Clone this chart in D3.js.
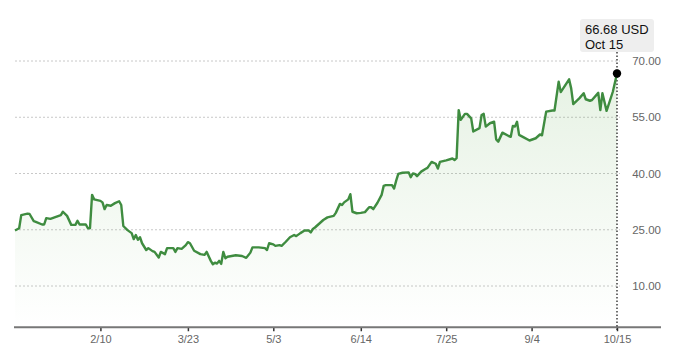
<!DOCTYPE html>
<html>
<head>
<meta charset="utf-8">
<script src="https://cdn.jsdelivr.net/npm/d3@7"></script>
<style>
  html, body { margin: 0; padding: 0; background: #fff; }
  svg { display: block; font-family: "Liberation Sans", Arial, Helvetica, sans-serif; }
</style>
</head>
<body>
<svg id="chart" width="680" height="357"></svg>
<script>
// ---- data ----
const dates = [
  "2019-12-31","2020-01-02","2020-01-03","2020-01-06","2020-01-07","2020-01-09","2020-01-10","2020-01-13","2020-01-14","2020-01-15",
  "2020-01-17","2020-01-19","2020-01-22","2020-01-23","2020-01-25","2020-01-27","2020-01-29","2020-01-30","2020-01-31","2020-02-03",
  "2020-02-04","2020-02-05","2020-02-06","2020-02-07","2020-02-10","2020-02-11","2020-02-12","2020-02-13","2020-02-15","2020-02-17",
  "2020-02-19","2020-02-20","2020-02-21","2020-02-23","2020-02-25","2020-02-26","2020-02-27","2020-02-28","2020-02-29","2020-03-01",
  "2020-03-03","2020-03-04","2020-03-06","2020-03-07","2020-03-09","2020-03-10","2020-03-12","2020-03-13","2020-03-16","2020-03-17",
  "2020-03-18","2020-03-20","2020-03-22","2020-03-23","2020-03-24","2020-03-26","2020-03-29","2020-03-31","2020-04-01","2020-04-03",
  "2020-04-04","2020-04-05","2020-04-06","2020-04-07","2020-04-08","2020-04-09","2020-04-10","2020-04-11","2020-04-13","2020-04-15",
  "2020-04-18","2020-04-20","2020-04-22","2020-04-23","2020-04-26","2020-04-29","2020-04-30","2020-05-01","2020-05-03","2020-05-04",
  "2020-05-06","2020-05-07","2020-05-09","2020-05-11","2020-05-13","2020-05-14","2020-05-16","2020-05-18","2020-05-20","2020-05-21",
  "2020-05-22","2020-05-23","2020-05-27","2020-05-29","2020-06-01","2020-06-02","2020-06-04","2020-06-05","2020-06-06","2020-06-08",
  "2020-06-09","2020-06-10","2020-06-12","2020-06-14","2020-06-16","2020-06-18","2020-06-19","2020-06-20","2020-06-22","2020-06-24",
  "2020-06-25","2020-06-26","2020-06-29","2020-06-30","2020-07-01","2020-07-02","2020-07-04","2020-07-07","2020-07-08","2020-07-09",
  "2020-07-10","2020-07-11","2020-07-13","2020-07-15","2020-07-16","2020-07-18","2020-07-20","2020-07-21","2020-07-22","2020-07-25",
  "2020-07-28","2020-07-29","2020-07-30","2020-07-31","2020-08-01","2020-08-02","2020-08-03","2020-08-04","2020-08-06","2020-08-07",
  "2020-08-10","2020-08-11","2020-08-12","2020-08-13","2020-08-15","2020-08-17","2020-08-18","2020-08-19","2020-08-21","2020-08-24",
  "2020-08-25","2020-08-26","2020-08-27","2020-08-28","2020-08-29","2020-08-31","2020-09-03","2020-09-06","2020-09-08","2020-09-09",
  "2020-09-11","2020-09-14","2020-09-15","2020-09-17","2020-09-18","2020-09-22","2020-09-23","2020-09-24","2020-09-27","2020-09-29",
  "2020-09-30","2020-10-02","2020-10-03","2020-10-06","2020-10-07","2020-10-08","2020-10-10","2020-10-13","2020-10-15"
];
const prices = [
  24.8,25.4,28.9,29.3,29.2,27.3,27.1,26.4,26.4,28.1,
  27.9,28.3,28.9,29.8,28.7,26.3,26.3,27.4,26.4,26.4,
  25.4,25.4,34.3,33.1,32.7,32.3,30.5,31.6,31.4,32.1,
  32.6,31.6,26.0,24.9,24.1,22.5,23.6,22.3,23.0,21.4,
  19.6,20.1,19.3,19.1,17.6,19.1,18.5,20.1,20.1,19.1,
  20.1,19.9,20.9,21.7,21.4,19.4,18.5,18.3,19.1,16.7,
  15.8,16.2,16.0,16.7,15.9,19.1,17.4,17.8,18.0,18.2,
  18.0,17.5,18.9,20.3,20.3,20.1,19.6,21.4,21.1,20.7,
  20.9,20.7,21.8,23.0,23.6,23.3,24.1,24.8,24.8,24.3,
  25.2,25.6,27.6,28.3,28.7,29.5,31.9,31.6,32.3,33.1,
  34.5,29.8,29.4,29.5,29.7,31.0,31.0,30.5,32.2,34.3,
  36.7,36.9,36.9,36.0,38.1,39.9,40.2,40.3,39.0,40.0,
  39.9,39.3,40.5,41.2,41.5,43.1,42.6,41.3,43.1,43.5,
  44.0,43.6,44.1,56.9,54.3,55.1,55.9,55.9,54.7,51.2,
  52.1,55.6,55.9,52.5,53.4,53.8,49.1,48.5,50.9,50.0,
  49.8,52.7,52.5,53.8,50.3,49.7,48.8,49.4,50.4,50.2,
  56.5,56.8,56.8,64.5,61.7,65.1,62.7,58.5,60.1,61.4,
  59.8,59.4,59.6,61.5,56.9,61.4,56.7,61.8,66.68
];
const yTicks = [10, 25, 40, 55, 70];
const xTickDates = ["2020-02-10","2020-03-23","2020-05-03","2020-06-14","2020-07-25","2020-09-04","2020-10-15"];
const lastLabel = "66.68 USD";
const lastDateLabel = "Oct 15";

// ---- setup ----
const parse = d3.timeParse("%Y-%m-%d");
const data = dates.map((d, i) => ({ date: parse(d), value: prices[i] }));
const svg = d3.select("#chart");

const x = d3.scaleTime()
  .domain([parse("2019-12-31"), parse("2020-10-15")])
  .range([15, 617]);
const y = d3.scaleLinear()
  .domain([-1, 72])
  .range([327.25, 53.5]);

const axisY = y(-1);
const gridLeft = 15, gridRight = 620;

// gradient
const defs = svg.append("defs");
const grad = defs.append("linearGradient")
  .attr("id", "areaGrad").attr("x1", 0).attr("y1", 0).attr("x2", 0).attr("y2", 1);
grad.append("stop").attr("offset", "0%").attr("stop-color", "#5aa84a").attr("stop-opacity", 0.15);
grad.append("stop").attr("offset", "100%").attr("stop-color", "#5aa84a").attr("stop-opacity", 0.0);

// gridlines
svg.append("g").selectAll("line").data(yTicks).join("line")
  .attr("x1", gridLeft).attr("x2", gridRight)
  .attr("y1", d => y(d)).attr("y2", d => y(d))
  .attr("stroke", "#c8c8c8").attr("stroke-width", 1)
  .attr("stroke-dasharray", "2,2");

// y labels
svg.append("g").selectAll("text").data(yTicks).join("text")
  .attr("x", 661).attr("y", d => y(d))
  .attr("dy", "0.35em")
  .attr("text-anchor", "end")
  .attr("font-size", "11.5px")
  .attr("fill", "#666")
  .text(d => d3.format(".2f")(d));

// area
const area = d3.area()
  .x(d => x(d.date))
  .y0(axisY)
  .y1(d => y(d.value));
svg.append("path").datum(data)
  .attr("d", area)
  .attr("fill", "url(#areaGrad)");

// x axis
const xAxis = d3.axisBottom(x)
  .tickValues(xTickDates.map(parse))
  .tickFormat(d3.timeFormat("%-m/%-d"))
  .tickSize(4)
  .tickSizeOuter(0);
const gx = svg.append("g").attr("transform", `translate(0,${axisY})`).call(xAxis);
gx.select(".domain").remove();
gx.selectAll(".tick line").attr("stroke", "#333").attr("stroke-width", 1.5);
gx.selectAll(".tick text")
  .attr("font-family", "Liberation Sans, Arial, sans-serif")
  .attr("font-size", "11px").attr("fill", "#666").attr("y", 8);
gx.append("line")
  .attr("x1", 14).attr("x2", 661).attr("y1", 0).attr("y2", 0)
  .attr("stroke", "#777").attr("stroke-width", 2);

// vertical dotted line at last point
const last = data[data.length - 1];
svg.append("line")
  .attr("x1", x(last.date)).attr("x2", x(last.date))
  .attr("y1", 52).attr("y2", axisY + 4)
  .attr("stroke", "#222").attr("stroke-width", 1.3)
  .attr("stroke-dasharray", "1.5,2");

// line
const line = d3.line()
  .x(d => x(d.date))
  .y(d => y(d.value));
svg.append("path").datum(data)
  .attr("d", line)
  .attr("fill", "none")
  .attr("stroke", "#3f8c40")
  .attr("stroke-width", 2.4)
  .attr("stroke-linejoin", "round");

// end dot
svg.append("circle")
  .attr("cx", x(last.date)).attr("cy", y(last.value))
  .attr("r", 4.2).attr("fill", "#000");

// tooltip
const tip = svg.append("g");
tip.append("rect")
  .attr("x", 580).attr("y", 19).attr("width", 74).attr("height", 33)
  .attr("rx", 3).attr("fill", "#eeeeee");
tip.append("text")
  .attr("x", 585).attr("y", 33.5)
  .attr("font-size", "13px").attr("fill", "#111")
  .text(lastLabel);
tip.append("text")
  .attr("x", 585).attr("y", 48.5)
  .attr("font-size", "13px").attr("fill", "#111")
  .text(lastDateLabel);
</script>
</body>
</html>
